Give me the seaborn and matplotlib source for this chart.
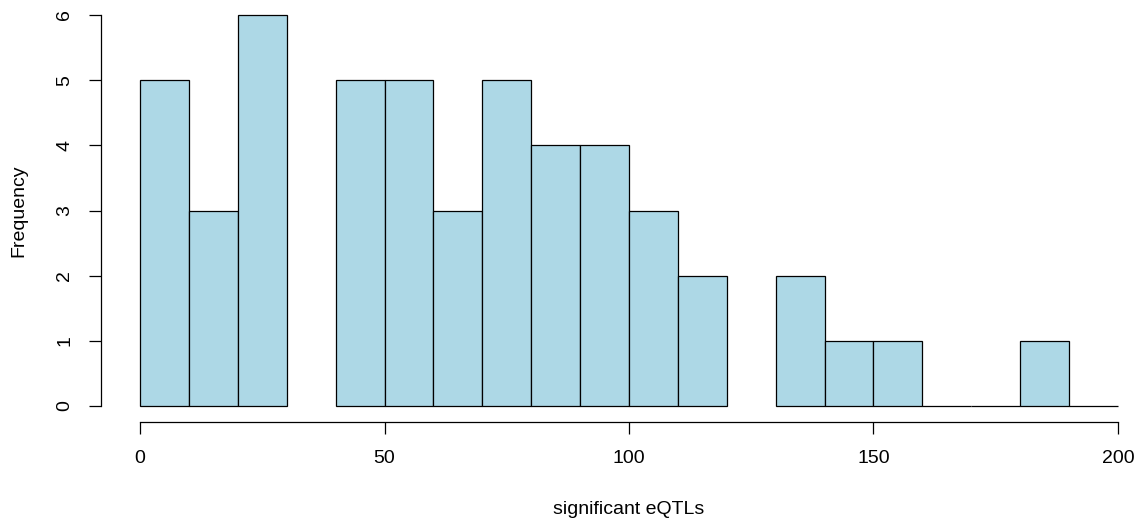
import numpy as np
import pandas as pd
import seaborn as sns
import matplotlib.pyplot as plt

# histogram bins (width 10) and counts
bin_edges = list(range(0, 210, 10))
counts = [5, 3, 6, 0, 5, 5, 3, 5, 4, 4, 3, 2, 0, 2, 1, 1, 0, 0, 1, 0]
x_ticks = [0, 50, 100, 150, 200]
y_ticks = [0, 1, 2, 3, 4, 5, 6]
# empty bins that show no baseline stroke in the reference
no_stroke_bins = [30, 120]

df = pd.DataFrame({'eqtl': [e + 5 for e in bin_edges[:-1]], 'n': counts})

sns.set_style('white')
plt.rcParams['font.family'] = ['Liberation Sans', 'DejaVu Sans']

fig = plt.figure(figsize=(11.4, 5.2), dpi=100)
W, H = 1140, 520
# plot region in pixels (R style 4% padding around data range)
left, right = 101, 1157
top, bottom = -0.6, 421.6
ax = fig.add_axes([left / W, 1 - bottom / H, (right - left) / W, (bottom - top) / H])

sns.histplot(data=df, x='eqtl', weights='n', bins=bin_edges, ax=ax,
             color='#ADD8E6', alpha=1, edgecolor='black', linewidth=0.9)

for p in ax.patches:
    if p.get_height() == 0 and round(p.get_x()) in no_stroke_bins:
        p.set_linewidth(0)

ax.set_xlim(-8, 208)
ax.set_ylim(-0.24, 6.24)
ax.set_xticks(x_ticks)
ax.set_yticks(y_ticks)
ax.set_yticklabels([str(v) for v in y_ticks], rotation=90, va='center')

for s in ['top', 'right']:
    ax.spines[s].set_visible(False)
ax.spines['left'].set_bounds(0, 6)
ax.spines['bottom'].set_bounds(0, 200)
for s in ['left', 'bottom']:
    ax.spines[s].set_color('black')
    ax.spines[s].set_linewidth(0.9)

ax.tick_params(axis='both', direction='out', length=8.6, width=0.9, colors='black',
               labelsize=14, left=True, bottom=True)
ax.tick_params(axis='x', pad=12)
ax.tick_params(axis='y', pad=11.5)

ax.set_xlabel('significant eQTLs', fontsize=14, labelpad=24.5, color='black')
ax.set_ylabel('Frequency', fontsize=14, labelpad=20.5, color='black')
ax.grid(False)

fig.savefig('out.png', dpi=100)
